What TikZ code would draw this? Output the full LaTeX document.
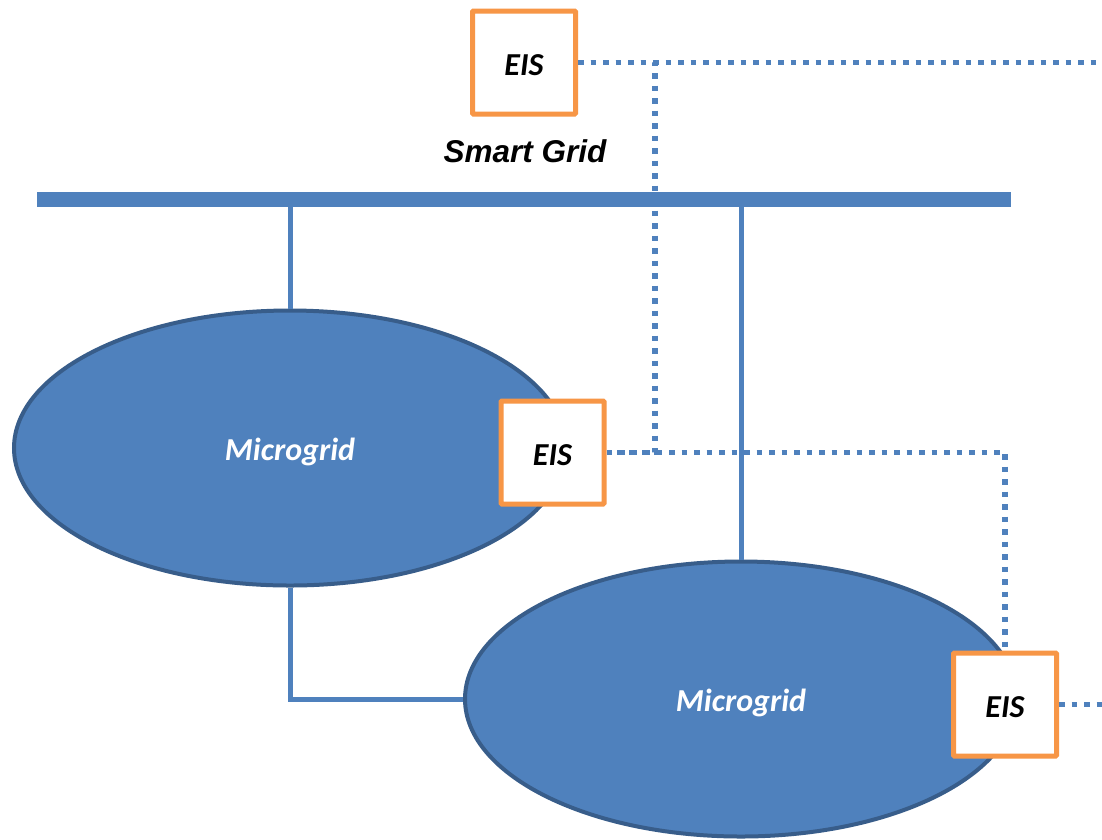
\documentclass[tikz,border=0pt]{standalone}
\usepackage{fontspec}
\setmainfont{Carlito}
\newfontfamily\arialfont{Liberation Sans}
\usetikzlibrary{shapes.geometric}
\definecolor{gridblue}{HTML}{4F81BD}
\definecolor{gridedge}{HTML}{385D8A}
\definecolor{eisorange}{HTML}{F79646}
\begin{document}
\begin{tikzpicture}[x=1pt,y=-1pt,
  busbar/.style={draw=gridblue, line width=15pt, line cap=butt},
  feeder/.style={draw=gridblue, line width=5pt},
  comm/.style={draw=gridblue, line width=5.5pt, dash pattern=on 5.5pt off 7pt},
  mgrid/.style={ellipse, fill=gridblue, draw=gridedge, line width=4pt,
    minimum width=552pt, minimum height=275pt, inner sep=0pt, text=white,
    text height=25pt, text depth=0pt,
    font=\bfseries\itshape\fontsize{32}{38}\selectfont},
  eisbox/.style={rectangle, fill=white, draw=eisorange, line width=5pt,
    minimum size=103pt, inner sep=0pt, rounded corners=1pt,
    text height=25pt, text depth=0pt,
    font=\bfseries\itshape\fontsize{32}{38}\selectfont},
  label/.style={font=\arialfont\bfseries\itshape\fontsize{31.5}{38}\selectfont}]
\useasboundingbox[fill=white] (0,0) rectangle (1102,839);

% microgrids
\node[mgrid] (mg1) at (290,448) {Microgrid};
\node[mgrid] (mg2) at (741,699) {Microgrid};

% energy information systems
\node[eisbox] (eis1) at (524,62.5) {EIS};
\node[eisbox] (eis2) at (552.5,452.5) {EIS};
\node[eisbox] (eis3) at (1005,704.5) {EIS};

\node[label] (sg) at (525,151) {Smart Grid};

% communication links
\coordinate (out1) at (1102,62.5);
\coordinate (out2) at (1102,704.5);
\coordinate (j1) at (655,62.5);
\coordinate (j2) at (655,452.5);
\draw[comm] (eis1.east) -- (out1);
\draw[comm] (eis1.east) -- (j1) -- (j2) -- (eis2.east);
\draw[comm] (eis2.east) -| (eis3.north);
\draw[comm] (eis3.east) -- (out2);

% main bus and feeders
\coordinate (busL) at (37,199);
\coordinate (busR) at (1011,199);
\draw[busbar] (busL) -- (busR);
\draw[feeder] (mg1.north |- busL) -- (mg1.north);
\draw[feeder] (mg2.north |- busL) -- (mg2.north);
\draw[feeder] (mg1.south) |- (mg2.west);
\end{tikzpicture}
\end{document}
